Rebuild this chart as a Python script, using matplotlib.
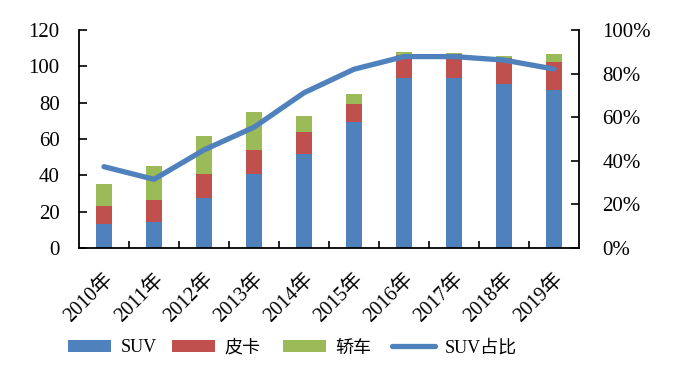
import matplotlib
matplotlib.use("Agg")
import matplotlib.pyplot as plt
import numpy as np
from matplotlib.ticker import FuncFormatter

plt.rcParams['font.family'] = ['Liberation Serif', 'Noto Sans CJK SC']

years = ["2010年", "2011年", "2012年", "2013年", "2014年", "2015年", "2016年", "2017年", "2018年", "2019年"]
suv = [13.4, 14.5, 27.7, 40.9, 51.9, 69.5, 93.7, 93.7, 90.4, 87.1]
pickup = [9.7, 11.9, 13.0, 13.0, 11.9, 9.7, 12.5, 12.9, 14.3, 15.3]
sedan = [12.1, 18.7, 20.9, 20.9, 8.8, 5.6, 1.7, 0.6, 1.1, 4.4]
suv_share = [37.3, 31.5, 45.0, 55.4, 71.2, 82.0, 87.8, 87.8, 86.2, 82.1]

blue = "#4F81BD"
red = "#C0504D"
green = "#9BBB59"

fig = plt.figure(figsize=(6.85, 3.87), dpi=100)
ax = fig.add_axes([79/685, 1-248/387, 500/685, 218/387])
x = np.arange(len(years))
w = 0.32
b1 = ax.bar(x, suv, w, color=blue, label="SUV")
b2 = ax.bar(x, pickup, w, bottom=suv, color=red, label="皮卡")
bottom2 = np.array(suv) + np.array(pickup)
b3 = ax.bar(x, sedan, w, bottom=bottom2, color=green, label="轿车")
ax.set_xlim(-0.5, len(years) - 0.5)
ax.set_ylim(0, 120)
ax.set_yticks(range(0, 121, 20))
ax.set_xticks(x)
ax.set_xticklabels(years, rotation=45, ha="right", rotation_mode="anchor", fontsize=14.5)
ax.tick_params(axis="x", length=0, pad=16)
ax.set_xticks(np.arange(0.5, len(years) - 0.5, 1), minor=True)
ax.tick_params(axis="x", which="minor", direction="in", length=5, width=1.2)
ax.tick_params(axis="y", direction="in", length=6, width=1.2, labelsize=15, pad=14)
for s in ["top", "right"]:
    ax.spines[s].set_visible(False)
ax.spines["left"].set_linewidth(1.3)
ax.spines["bottom"].set_linewidth(1.3)

ax2 = ax.twinx()
l, = ax2.plot(x, suv_share, color=blue, lw=3.8, solid_capstyle="round", label="SUV占比")
ax2.set_ylim(0, 100)
ax2.set_yticks(range(0, 101, 20))
ax2.yaxis.set_major_formatter(FuncFormatter(lambda v, p: f"{int(v)}%"))
ax2.tick_params(axis="y", direction="in", length=6, width=1.2, labelsize=15, pad=17)
for s in ["top", "left", "bottom"]:
    ax2.spines[s].set_visible(False)
ax2.spines["right"].set_linewidth(1.3)

handles = [b1, b2, b3, l]
labels = ["SUV", "皮卡", "轿车", "SUV占比"]
starts = [68, 172, 283, 392]
for h, lab, xs in zip(handles, labels, starts):
    lg = fig.legend([h], [lab], loc="center left", bbox_to_anchor=(xs/685, 1-348/387),
                    frameon=False, fontsize=13, handlelength=2.4, handleheight=0.6,
                    handletextpad=0.5, borderpad=0, borderaxespad=0)

fig.savefig("out.png", dpi=100)
